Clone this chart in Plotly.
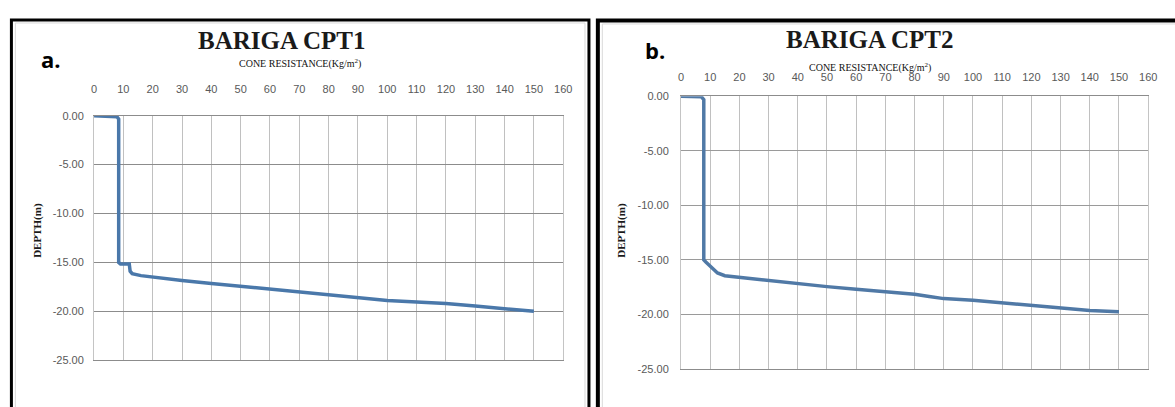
import plotly.graph_objects as go

W, H = 1175, 407

# ---- data ----
cpt1_resistance = [0, 7.8, 8.4, 8.4, 9.0, 12.0, 12.3, 13.0, 16, 20, 30, 40, 50, 60, 70, 80, 90, 100, 110, 120, 130, 140, 150]
cpt1_depth = [0, -0.1, -0.35, -15.0, -15.15, -15.15, -15.9, -16.15, -16.35, -16.5, -16.85, -17.15, -17.45, -17.75,
              -18.05, -18.35, -18.6, -18.9, -19.05, -19.2, -19.45, -19.7, -20.0]

cpt2_resistance = [0, 7.0, 7.8, 7.8, 8.5, 10, 12.5, 15, 20, 30, 40, 50, 60, 70, 80, 85, 90, 100, 110, 120, 130, 140, 150]
cpt2_depth = [0, -0.05, -0.3, -15.0, -15.2, -15.6, -16.2, -16.45, -16.6, -16.9, -17.2, -17.45, -17.7, -17.9,
              -18.15, -18.35, -18.55, -18.7, -18.95, -19.2, -19.45, -19.65, -19.75]

x_ticks = [0, 10, 20, 30, 40, 50, 60, 70, 80, 90, 100, 110, 120, 130, 140, 150, 160]
y_ticks = [0, -5, -10, -15, -20, -25]
y_tick_labels = ["0.00", "-5.00", "-10.00", "-15.00", "-20.00", "-25.00"]

titles = ["BARIGA CPT1", "BARIGA CPT2"]
subtitle = "CONE RESISTANCE(Kg/m<sup>2</sup>)"
panel_labels = ["a.", "b."]
y_title = "DEPTH(m)"


def px(x):
    return x / W


def py(y):
    return 1 - y / H


fig = go.Figure()
fig.add_trace(go.Scatter(x=cpt1_resistance, y=cpt1_depth, mode="lines",
                         line=dict(color="#4a78aa", width=3.5), xaxis="x", yaxis="y", showlegend=False))
fig.add_trace(go.Scatter(x=cpt2_resistance, y=cpt2_depth, mode="lines",
                         line=dict(color="#5079a6", width=3.5), xaxis="x2", yaxis="y2", showlegend=False))

tick_font = dict(family="Liberation Sans", size=11, color="#595959")


def xax(dom, anchor, ticklen, vcol):
    return dict(domain=dom, anchor=anchor, range=[0, 160], side="top", tickvals=x_ticks,
                showgrid=True, gridcolor=vcol, gridwidth=1, zeroline=False,
                showline=True, mirror=True, linecolor="#8c8c8c", linewidth=1,
                ticks="outside", ticklen=ticklen, tickcolor="rgba(0,0,0,0)",
                tickfont=tick_font, fixedrange=True)


def yax(dom, anchor, ticklen, hcol):
    return dict(domain=dom, anchor=anchor, range=[-25, 0], tickvals=y_ticks, ticktext=y_tick_labels,
                showgrid=True, gridcolor=hcol, gridwidth=1, zeroline=False,
                showline=True, mirror=True, linecolor="#c4c4c4", linewidth=1,
                ticks="outside", ticklen=ticklen, tickcolor="rgba(0,0,0,0)",
                tickfont=tick_font, fixedrange=True)


fig.update_layout(
    width=W, height=H, autosize=False,
    margin=dict(l=0, r=0, t=0, b=0),
    paper_bgcolor="white", plot_bgcolor="white",
    xaxis=xax([px(92), px(566)], "y", 17, "#c0c0c0"),
    yaxis=yax([py(365), py(113)], "x", 7, "#8c8c8c"),
    xaxis2=xax([px(685), px(1157)], "y2", 10, "#c0c0c0"),
    yaxis2=yax([py(374), py(93)], "x2", 9, "#9a9a9a"),
)

# frames
shapes = [
    dict(type="rect", xref="paper", yref="paper", x0=px(12.5), x1=px(588), y0=py(430), y1=py(17.5),
         line=dict(color="#d9d9d9", width=1)),
    dict(type="rect", xref="paper", yref="paper", x0=px(8.5), x1=px(592), y0=py(430), y1=py(14.5),
         line=dict(color="black", width=3)),
    dict(type="rect", xref="paper", yref="paper", x0=px(605.5), x1=px(1190), y0=py(430), y1=py(18.5),
         line=dict(color="#d9d9d9", width=1)),
    dict(type="rect", xref="paper", yref="paper", x0=px(601), x1=px(1190), y0=py(430), y1=py(15),
         line=dict(color="black", width=4)),
]
fig.update_layout(shapes=shapes)

ann = []
title_pos = [(281, 36), (875, 35)]
sub_pos = [(300, 59), (876, 63)]
lab_pos = [(48, 55), (659, 45)]
ytitle_pos = [(35, 231), (625, 231)]
for i in range(2):
    ann.append(dict(text=f"<b>{titles[i]}</b>", x=px(title_pos[i][0]), y=py(title_pos[i][1]),
                    xref="paper", yref="paper", showarrow=False, xanchor="center", yanchor="middle",
                    font=dict(family="Liberation Serif", size=25, color="#1a1a1a")))
    ann.append(dict(text=subtitle, x=px(sub_pos[i][0]), y=py(sub_pos[i][1]),
                    xref="paper", yref="paper", showarrow=False, xanchor="center", yanchor="middle",
                    font=dict(family="Liberation Serif", size=10, color="#111111")))
    ann.append(dict(text=f"<b>{panel_labels[i]}</b>", x=px(lab_pos[i][0]), y=py(lab_pos[i][1]),
                    xref="paper", yref="paper", showarrow=False, xanchor="center", yanchor="middle",
                    font=dict(family="Open Sans", size=22, color="black")))
    ann.append(dict(text=f"<b>{y_title}</b>", x=px(ytitle_pos[i][0]), y=py(ytitle_pos[i][1]),
                    xref="paper", yref="paper", showarrow=False, xanchor="center", yanchor="middle",
                    textangle=-90, font=dict(family="Liberation Serif", size=11, color="#1a1a1a")))
fig.update_layout(annotations=ann)

fig.write_html("out.html")
